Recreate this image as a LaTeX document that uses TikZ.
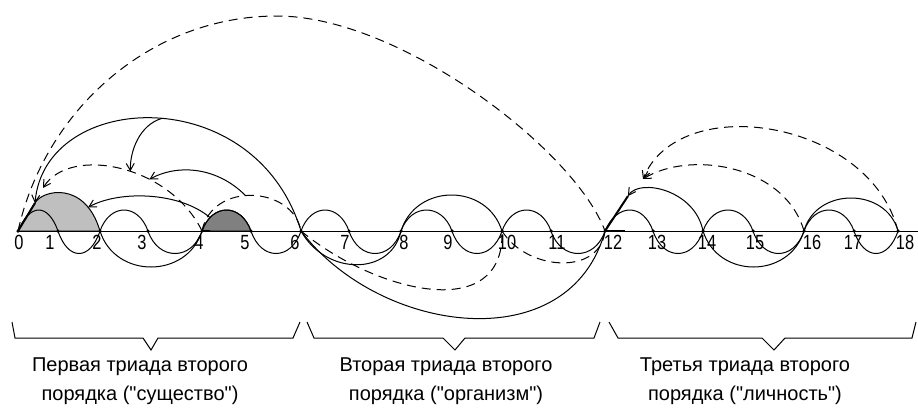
\documentclass[tikz,border=0pt]{standalone}
\usepackage{fontspec}
\setmainfont[Ligatures=TeXOff]{Liberation Sans}
\newfontfamily\numfont[FakeStretch=0.8]{Liberation Sans}
\usetikzlibrary{arrows.meta,positioning}
\tikzset{
  ln/.style={line width=1pt},
  dsh/.style={ln, dash pattern=on 9pt off 6pt},
  thk/.style={line width=2pt},
  arr/.style={ln, -{Straight Barb[length=7pt,width=8pt]}},
  darr/.style={dsh, -{Straight Barb[length=7pt,width=8pt]}},
  lighthump/.style={ln, fill=black!25},
  darkhump/.style={ln, fill=black!50},
  dot/.style={circle, fill, inner sep=0pt, minimum size=3.5pt},
  num/.style={font=\numfont\fontsize{20.5}{20.5}\selectfont, inner sep=0pt, anchor=north},
  triad/.style={font=\fontsize{20}{29}\selectfont, align=center, inner sep=0pt, anchor=north},
  brace/.style={line width=1pt}}

\begin{document}
\begin{tikzpicture}[x=1pt, y=-1pt]
  \useasboundingbox (0,0) rectangle (918,410);
  % points of the axis
  \foreach \i/\x in {0/18,1/58,2/100,3/148,4/202,5/251,6/301,7/349,8/401,9/452,10/502,11/551,12/605,13/653,14/703,15/753,16/804,17/854,18/898}
    \coordinate (p\i) at (\x,231);
  \coordinate (axend) at (918,231);
  \coordinate (a0) at (35,203);
  \coordinate (a1) at (43,188);
  \coordinate (a12) at (628,196);
  \coordinate (a16) at (643,179);
  \coordinate (b4) at (210,231);
  \coordinate (b12) at (625,231);

  % shaded humps
  \draw[lighthump] (p0) -- (a0) .. controls (42,190) and (85,180) .. (p2) coordinate[pos=0.8] (lg) -- cycle;
  \draw[darkhump] (p4) .. controls +(10,-28) and +(-10,-28) .. (p5) coordinate[pos=0.2] (dk) -- cycle;

  \draw[ln] (p0) -- (axend);
  \foreach \a/\b/\c/\o in {0/1/2/12,2/3/4/10,4/5/6/10,6/7/8/10,8/9/10/10,10/11/12/10,12/13/14/12,14/15/16/10,16/17/18/10}
    \draw[ln] (p\a) .. controls +(\o,-28) and +(-10,-28) .. (p\b) .. controls +(10,30) and +(-10,30) .. (p\c);
  \draw[thk] (p0) -- (a0);
  \draw[thk] (p4) -- (b4);
  \draw[thk] (p12) -- (a12);
  \draw[thk] (p12) -- (b12);

  % whole line
  \draw[dsh] (p0) .. controls (45,110) and (150,16) .. (277,16) .. controls (400,16) and (575,150) .. (p12);

  % first triad
  \draw[darr] (p4) .. controls (170,165) and (70,145) .. (a1) coordinate[pos=0.35] (d1b) coordinate[pos=0.45] (d1a);
  \draw[arr] (p6) .. controls (255,80) and (45,90) .. (a0) coordinate[pos=0.48] (s1m);
  \draw[dsh] (p4) .. controls +(10,-50) and +(-8,-45) .. (p6) coordinate[pos=0.45] (d2m);
  \draw[arr] (s1m) .. controls (140,125) and (130,150) .. (d1a);
  \draw[arr] (d2m) .. controls (215,165) and (175,165) .. (d1b);
  \draw[arr] (dk) .. controls (180,192) and (120,190) .. (lg);
  \draw[ln] (p2) .. controls +(15,48) and +(-15,48) .. (p4);

  % second triad
  \draw[ln] (p8) .. controls +(15,-48) and +(-15,-48) .. (p10);
  \draw[ln] (p6) .. controls +(25,45) and +(-10,45) .. (p8);
  \draw[dsh] (p6) .. controls (375,292) and (505,325) .. (p10);
  \draw[ln] (p6) .. controls (380,335) and (570,360) .. (p12);
  \draw[dsh] (p10) .. controls +(25,40) and +(-5,45) .. (p12);

  % third triad
  \draw[arr] (p14) .. controls (695,190) and (640,178) .. (a12);
  \draw[ln] (p16) .. controls +(12,-44) and +(-12,-44) .. (p18);
  \draw[darr] (p16) .. controls (785,165) and (690,150) .. (a16);
  \draw[darr] (p18) .. controls (870,120) and (680,90) .. (a16);
  \draw[ln] (p14) .. controls +(15,48) and +(-15,48) .. (p16);

  \foreach \i in {0,...,18}
    \node[dot] (d\i) at (p\i) {};
  \foreach \i/\dx in {0/1,1/-8,2/-3,3/-6,4/-3,5/-6,6/-6,7/-4,8/3,9/-4,10/5,11/6,12/8,13/4,14/4,15/2,16/8,17/-1,18/7}
    \node[num, xshift=\dx pt, yshift=-4pt] (l\i) at (p\i) {\i};

  % braces and captions
  \draw[brace] (12,322) -- (15,338) -- (143,338) -- (151,350) -- (158,338) -- (293,338) -- (300,322);
  \draw[brace] (307,322) -- (314,338) -- (443,338) -- (455,350) -- (465,338) -- (594,338) -- (600,322);
  \draw[brace] (609,322) -- (618,338) -- (762,338) -- (774,350) -- (785,338) -- (912,338) -- (916,322);
  \node[triad] (t1) at (140,358) {Первая триада второго\\порядка ("существо")};
  \node[triad] (t2) at (446,358) {Вторая триада второго\\порядка ("организм")};
  \node[triad] (t3) at (745,358) {Третья триада второго\\порядка ("личность")};
\end{tikzpicture}
\end{document}
